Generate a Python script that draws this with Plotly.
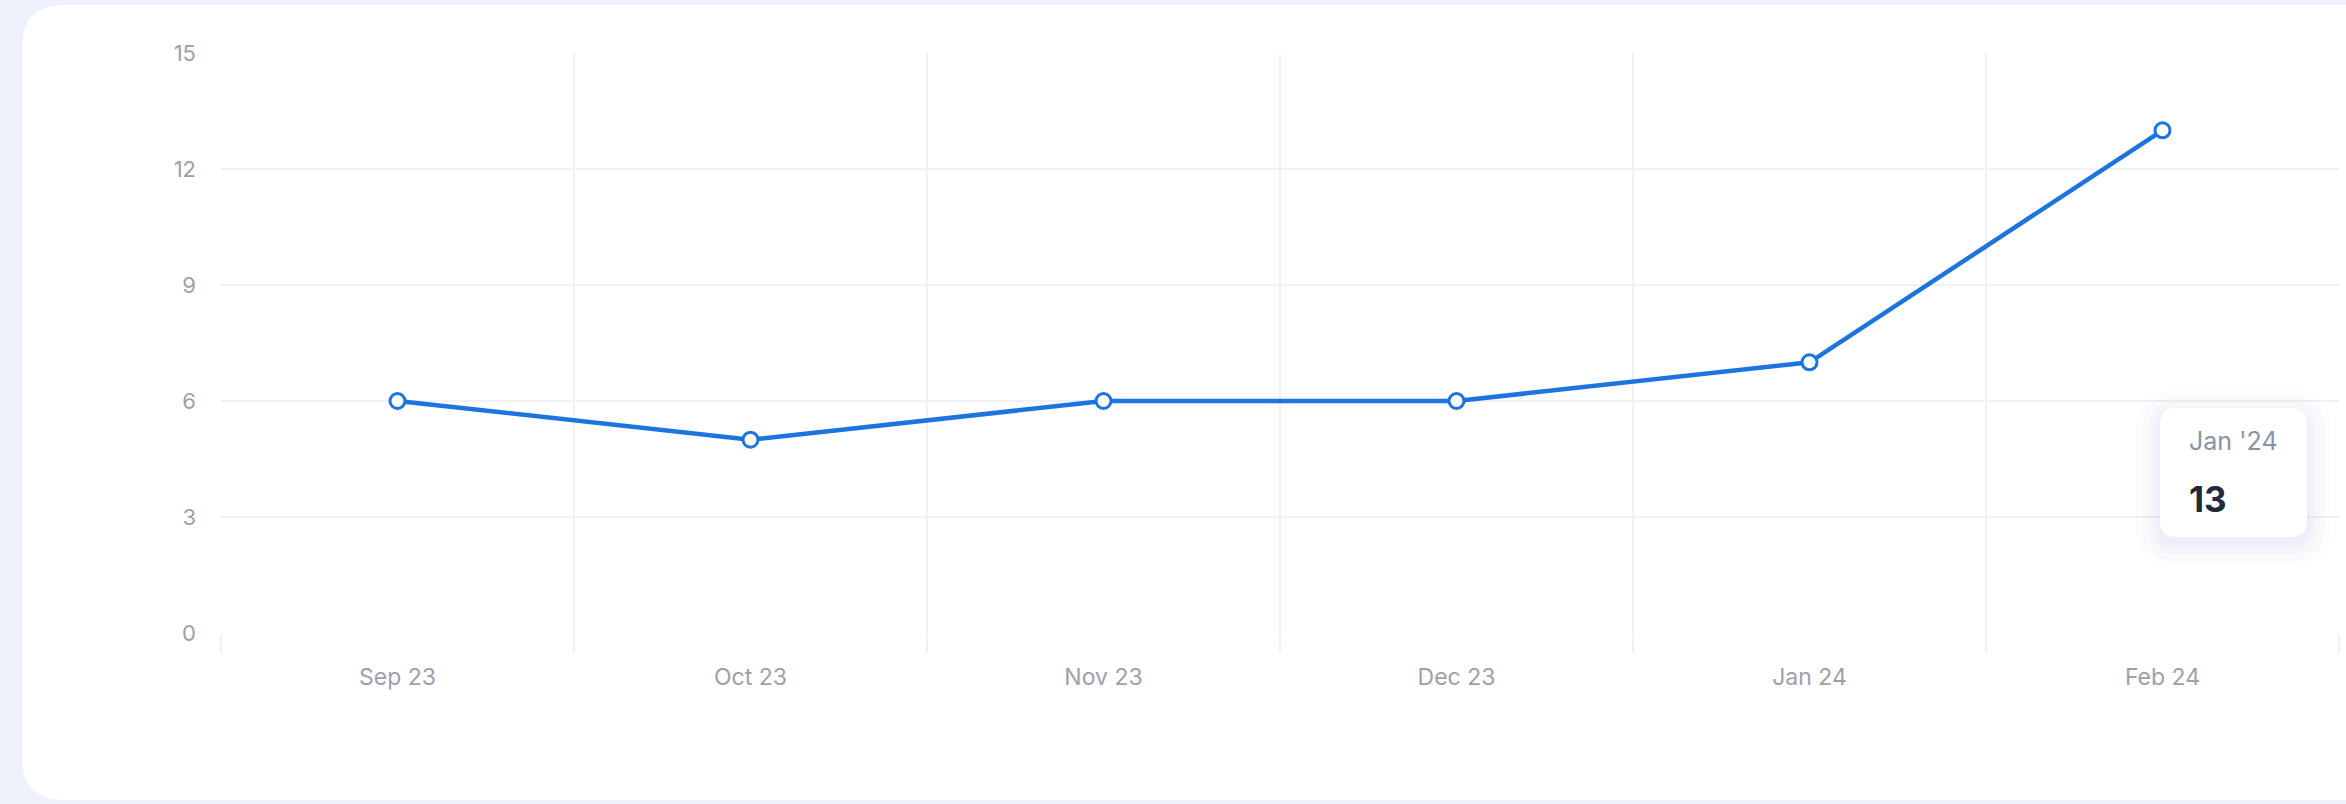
import plotly.graph_objects as go

# data
months = ["Sep 23", "Oct 23", "Nov 23", "Dec 23", "Jan 24", "Feb 24"]
values = [6, 5, 6, 6, 7, 13]
y_ticks = [0, 3, 6, 9, 12, 15]
tooltip_label = "Jan '24"
tooltip_value = "13"

W, H = 2346, 804
L, R, T, B = 221, 7, 53, 171
PW, PH = W - L - R, H - T - B

BLUE = "#1c74df"
GRID = "#f0f1f5"
LABEL = "#9ca0aa"


def px(x, y):
    # pixel position -> paper coords
    return (x - L) / PW, (H - B - y) / PH


def rounded_rect(x0, y0, x1, y1, r):
    def P(x, y):
        a, b = px(x, y)
        return f"{a:.5f},{b:.5f}"
    return (f"M {P(x0 + r, y0)} L {P(x1 - r, y0)} Q {P(x1, y0)} {P(x1, y0 + r)} "
            f"L {P(x1, y1 - r)} Q {P(x1, y1)} {P(x1 - r, y1)} "
            f"L {P(x0 + r, y1)} Q {P(x0, y1)} {P(x0, y1 - r)} "
            f"L {P(x0, y0 + r)} Q {P(x0, y0)} {P(x0 + r, y0)} Z")


fig = go.Figure(go.Scatter(
    x=months,
    y=values,
    mode="lines+markers",
    line=dict(color=BLUE, width=4.5),
    marker=dict(size=15, color="white", line=dict(color=BLUE, width=3)),
    hoverinfo="skip",
))

shapes = [
    # white card
    dict(type="path", xref="paper", yref="paper", layer="below",
         path=rounded_rect(22, 5, 2420, 800, 42),
         fillcolor="white", line=dict(width=0)),
]
# soft tooltip shadow
for grow, op in [(24, 0.012), (18, 0.018), (12, 0.025), (7, 0.03), (3, 0.035)]:
    shapes.append(dict(type="path", xref="paper", yref="paper", layer="above",
                       path=rounded_rect(2160 - grow, 408 - grow + 6, 2307 + grow, 537 + grow + 6, 16 + grow),
                       fillcolor=f"rgba(110,120,190,{op})", line=dict(width=0)))
shapes.append(dict(type="path", xref="paper", yref="paper", layer="above",
                   path=rounded_rect(2160, 408, 2307, 537, 16),
                   fillcolor="white", line=dict(width=0)))

tx, ty1 = px(2187, 441)
_, ty2 = px(2186, 499)

fig.update_layout(
    width=W, height=H,
    margin=dict(l=L, r=R, t=T, b=B),
    paper_bgcolor="#eef0fc",
    plot_bgcolor="rgba(0,0,0,0)",
    font=dict(family="Inter, Roboto, sans-serif", color=LABEL, size=22),
    showlegend=False,
    shapes=shapes,
    annotations=[
        dict(x=tx, y=ty1, xref="paper", yref="paper", text=tooltip_label,
             showarrow=False, xanchor="left", yanchor="middle",
             font=dict(size=25, color="#8b93a1")),
        dict(x=tx, y=ty2, xref="paper", yref="paper", text=f"<b>{tooltip_value}</b>",
             showarrow=False, xanchor="left", yanchor="middle",
             font=dict(size=35, color="#1f2937")),
    ],
    xaxis=dict(
        type="category",
        tickson="boundaries",
        showgrid=True, gridcolor=GRID, gridwidth=2,
        ticks="outside", ticklen=19, tickcolor=GRID, tickwidth=2,
        showline=False, zeroline=False,
        tickfont=dict(size=23, color=LABEL),
        ticklabelstandoff=28,
        range=[-0.5, len(months) - 0.5],
    ),
    yaxis=dict(
        range=[0, 15],
        tickvals=y_ticks,
        showgrid=True, gridcolor=GRID, gridwidth=2,
        zeroline=False, showline=False,
        ticks="",
        ticklabelstandoff=24,
        tickfont=dict(size=22, color=LABEL),
    ),
)

fig.write_html("out.html", config={"displayModeBar": False},
               post_script="document.body.style.margin='0';document.body.style.background='#eef0fc';")
